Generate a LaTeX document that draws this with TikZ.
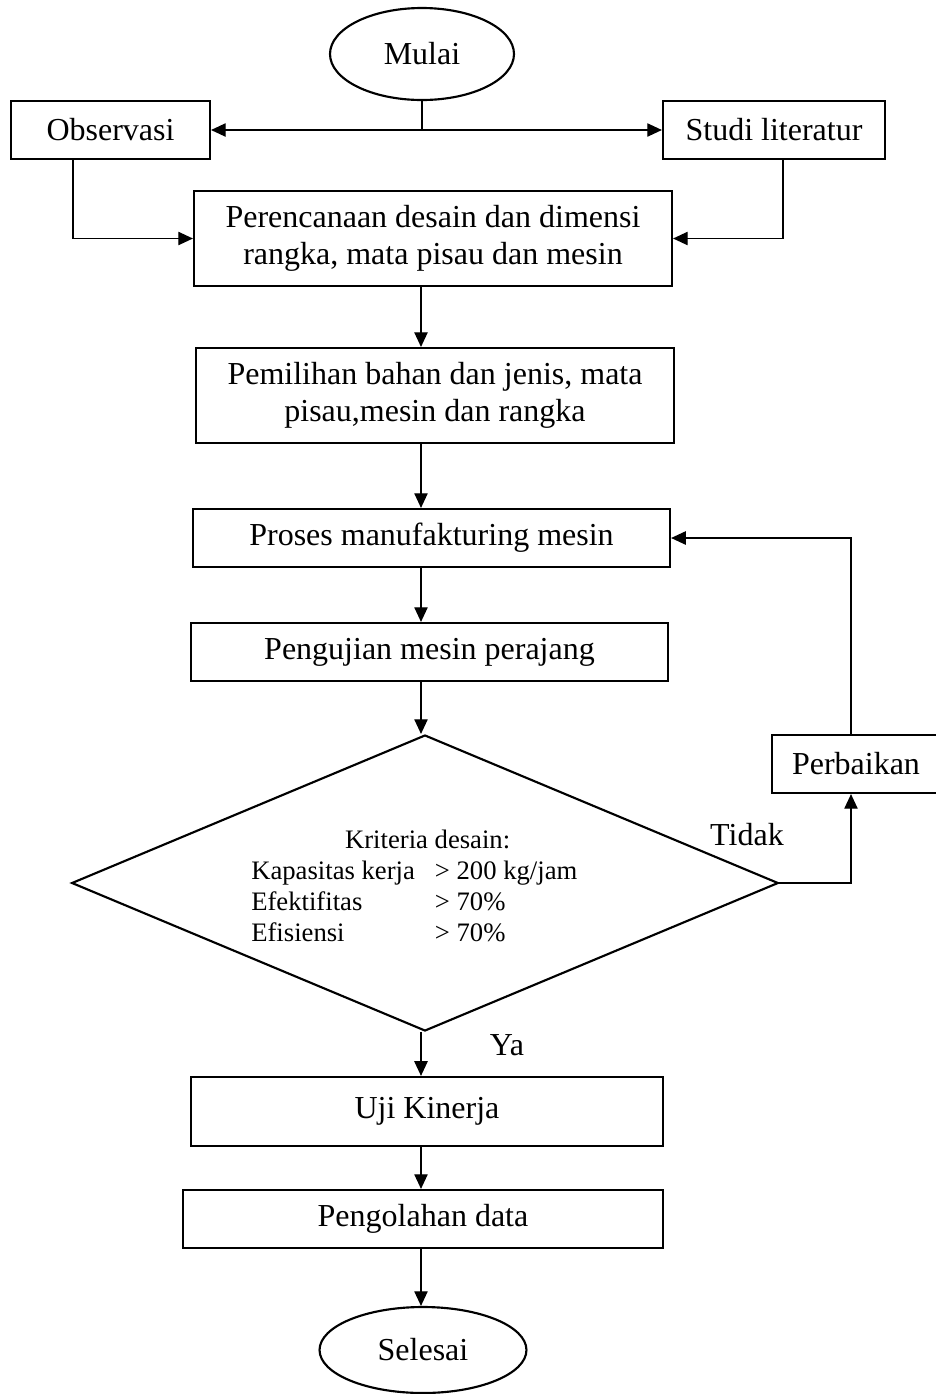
\documentclass[tikz,border=0pt]{standalone}
\usepackage{fontspec}
\setmainfont{Liberation Serif}
\usetikzlibrary{shapes.geometric,arrows.meta}

\begin{document}
\begin{tikzpicture}[x=0.375pt, y=-0.375pt, >={Triangle[length=5.5pt,width=5pt]},
    every node/.style={font=\fontsize{12}{14}\selectfont},
    box/.style={draw, line width=0.8pt, inner sep=0pt, align=center},
    term/.style={draw, ellipse, line width=0.8pt, inner sep=0pt},
    link/.style={line width=0.5pt}]
    \useasboundingbox (0,0) rectangle (936,1394);

    % Start and first steps
    \node[term, minimum width=69pt, minimum height=34.5pt] (mulai) at (422,54) {Mulai};
    \node[box, minimum width=74.6pt, minimum height=21.75pt] (obs) at (110.5,130) {Observasi};
    \node[box, minimum width=83.25pt, minimum height=21.75pt] (studi) at (774,130) {Studi literatur};

    % Main chain
    \node[box, minimum width=179.25pt, minimum height=35.6pt] (rencana) at (433,238.5) {Perencanaan desain dan dimensi\\rangka, mata pisau dan mesin};
    \node[box, minimum width=179.25pt, minimum height=35.6pt] (pilih) at (435,395.5) {Pemilihan bahan dan jenis, mata\\pisau,mesin dan rangka};
    \node[box, minimum width=178.9pt, minimum height=21.75pt] (proses) at (431.5,538) {Proses manufakturing mesin};
    \node[box, minimum width=178.9pt, minimum height=21.75pt] (uji) at (429.5,652) {Pengujian mesin perajang};

    % Decision
    \node[diamond, draw, line width=0.8pt, inner sep=0pt, shape aspect=2.39,
          minimum width=265pt, minimum height=111pt,
          font=\fontsize{10}{11.6}\selectfont] (dia) at (425,883)
        {\begin{tabular}{@{}l@{\hspace{7.5pt}}l@{\hspace{8pt}}}
           \noalign{\vskip 4.5pt}
           \multicolumn{2}{@{\hspace{10pt}}c@{\hspace{8pt}}}{Kriteria desain:}\\
           Kapasitas kerja & > 200 kg/jam\\
           Efektifitas & > 70\%\\
           Efisiensi & > 70\%
         \end{tabular}};
    \node[box, minimum width=63pt, minimum height=21.75pt] (perb) at (856,764) {Perbaikan};
    \node (tidak) at (747,835) {Tidak};
    \node (ya) at (507,1045) {Ya};

    % End
    \node[box, minimum width=177pt, minimum height=25.9pt] (kinerja) at (427,1111.5) {Uji Kinerja};
    \node[box, minimum width=180pt, minimum height=21.75pt] (olah) at (423,1219) {Pengolahan data};
    \node[term, minimum width=77.6pt, minimum height=32.25pt] (selesai) at (423,1350) {Selesai};

    % Arrows
    \coordinate (axis) at (421,0);
    \coordinate (ol) at (73,0);
    \coordinate (sr) at (783,0);
    \coordinate (rx) at (851,0);
    \draw[link] (mulai.south) -- (mulai.south |- obs.east);
    \draw[link, <->] (obs.east) -- (studi.west);
    \draw[link, ->] (obs.south -| ol) |- (rencana.west);
    \draw[link, ->] (studi.south -| sr) |- (rencana.east);
    \draw[link, ->] (rencana.south -| axis) -- (pilih.north -| axis);
    \draw[link, ->] (pilih.south -| axis) -- (proses.north -| axis);
    \draw[link, ->] (proses.south -| axis) -- (uji.north -| axis);
    \draw[link, ->] (uji.south -| axis) -- (dia.north -| axis);
    \draw[link, ->] (dia.south -| axis) -- (kinerja.north -| axis);
    \draw[link, ->] (kinerja.south -| axis) -- (olah.north -| axis);
    \draw[link, ->] (olah.south -| axis) -- (selesai.north -| axis);

    % Repair loop
    \draw[link, ->] (dia.east) -| (perb.south -| rx);
    \draw[link, ->] (perb.north -| rx) |- (proses.east);
\end{tikzpicture}
\end{document}
